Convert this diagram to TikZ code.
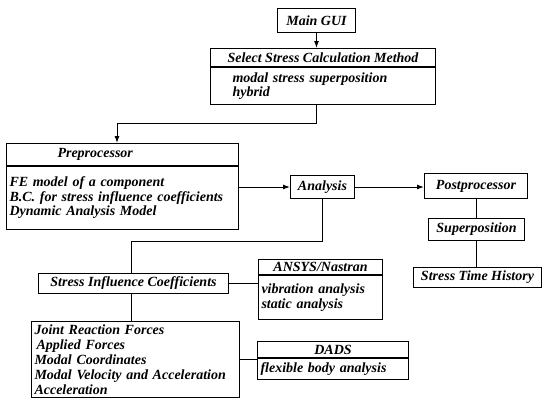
\documentclass[tikz,border=0pt]{standalone}
\usepackage{fontspec}
\setmainfont{Liberation Serif}
\usetikzlibrary{arrows.meta}
\hyphenpenalty=10000
\exhyphenpenalty=10000
\begin{document}
\begin{tikzpicture}[x=1pt,y={(0pt,-1pt)},
  box/.style={draw, line width=1pt, inner sep=0pt, anchor=north west,
    font=\fontsize{14}{14.5}\selectfont\bfseries\itshape},
  body/.style={box, align=left, inner xsep=3pt},
  link/.style={line width=1pt},
  arr/.style={link, -{Latex[length=7pt,width=5pt]}}]
\useasboundingbox (0,0) rectangle (543,400);
% top
\node[box, minimum width=78pt, minimum height=24pt] (main) at (277,8) {Main GUI};
\node[box, minimum width=225pt, minimum height=18pt] (selh) at (210,48) {Select Stress Calculation Method};
\node[box, align=left, inner xsep=22pt, text width=181pt, minimum height=37pt] (selb) at (selh.south west) {modal stress superposition\\hybrid};
% preprocessor
\node[box, align=left, inner xsep=3pt, text width=226pt, minimum height=22pt] (preh) at (6,143) {\hspace*{48pt}Preprocessor};
\node[body, text width=226pt, minimum height=63pt] (preb) at (preh.south west) {FE model of a component\\B.C.\ for stress influence coefficients\\Dynamic Analysis Model};
% analysis & post
\node[box, minimum width=64pt, minimum height=23pt] (ana) at (290,175) {Analysis};
\node[box, minimum width=103pt, minimum height=25pt] (post) at (424,173) {Postprocessor};
\node[box, minimum width=96pt, minimum height=22pt] (sup) at (428,218) {Superposition};
\node[box, minimum width=128pt, minimum height=20pt] (sth) at (413,267) {Stress Time History};
% lower left
\node[box, minimum width=190pt, minimum height=20pt] (sic) at (38,273) {Stress Influence Coefficients};
\node[body, text width=202pt, minimum height=76pt, font=\fontsize{14}{15}\selectfont\bfseries\itshape] (list) at (31,321) {Joint Reaction Forces\\\hspace*{2pt}Applied Forces\\Modal Coordinates\\Modal Velocity and Acceleration\\Acceleration};
% tools
\node[box, minimum width=124pt, minimum height=15pt] (ansh) at (258,259) {ANSYS/Nastran};
\node[body, text width=118pt, minimum height=44pt] (ansb) at (ansh.south west) {vibration analysis\\static analysis};
\node[box, minimum width=151pt, minimum height=16pt] (dadsh) at (257,341) {DADS};
\node[body, text width=145pt, minimum height=21pt] (dadsb) at (dadsh.south west) {flexible body analysis};
% connectors
\coordinate (bend1) at (117,123);
\coordinate (bend2) at (131,241);
\draw[arr] (main.south) -- (main.south |- selh.north);
\draw[arr] (main.south |- selb.south) |- (bend1) -- (bend1 |- preh.north);
\draw[arr] (ana.west -| preb.east) -- (ana.west);
\draw[arr] (ana.east) -- (ana.east -| post.west);
\draw[link] (post.south -| sup.north) -- (sup.north);
\draw[link] (sup.south) -- (sup.south |- sth.north);
\draw[link] (ana.south) |- (bend2) -- (bend2 |- sic.north);
\draw[link] (sic.south -| bend2) -- (bend2 |- list.north);
\draw[link] (sic.east) -- (sic.east -| ansb.west);
\draw[link] (list.east) -- (list.east -| dadsb.west);
\end{tikzpicture}
\end{document}
